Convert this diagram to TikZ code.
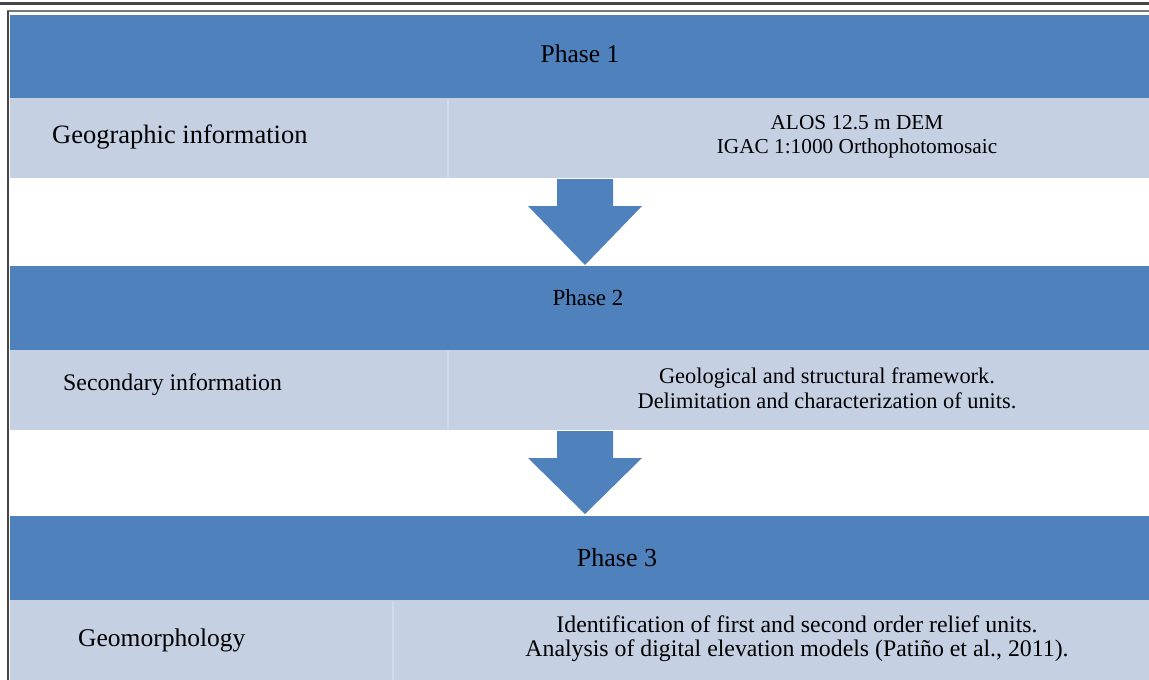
\documentclass[tikz,border=0pt]{standalone}
\usepackage{fontspec}
\setmainfont{Liberation Serif}
\definecolor{barblue}{RGB}{79,129,189}
\definecolor{cellblue}{RGB}{197,208,227}
\definecolor{celldiv}{RGB}{210,219,234}
\definecolor{framedark}{RGB}{70,70,70}
\definecolor{framelight}{RGB}{120,120,120}
\begin{document}
\begin{tikzpicture}[x=1pt,y=-1pt,
  bar/.style={fill=barblue,draw=none,inner sep=0pt,anchor=north west,minimum width=1139pt},
  cell/.style={fill=cellblue,draw=none,inner sep=0pt,anchor=north west,minimum width=1139pt},
  txt/.style={inner sep=0pt,text=black,align=center},
  divline/.style={draw=celldiv,line width=2.5pt},
  blockarrow/.style={fill=barblue,draw=none}]
\useasboundingbox (0,0) rectangle (1149,680);
\fill[white] (0,0) rectangle (1149,680);

% frame
\draw[framedark,line width=3pt] (0,3.5) -- (1149,3.5);
\draw[framelight,line width=1.6pt] (7,11) -- (1149,11);
\draw[framedark,line width=2pt] (7.5,10.5) -- (7.5,680);

% phase bars and cells
\node[bar,minimum height=83pt] (p1) at (10,15) {};
\node[cell,minimum height=80pt] (c1) at (10,98) {};
\node[bar,minimum height=84pt] (p2) at (10,266) {};
\node[cell,minimum height=80pt] (c2) at (10,350) {};
\node[bar,minimum height=84pt] (p3) at (10,516) {};
\node[cell,minimum height=80pt] (c3) at (10,600) {};

% cell dividers
\draw[divline] (448,99) -- (448,177);
\draw[divline] (448,351) -- (448,429);
\draw[divline] (393,601) -- (393,680);

% arrows
\fill[blockarrow] (557,179) -- (613,179) -- (613,206) -- (642,206) -- (585,265) -- (528,206) -- (557,206) -- cycle;
\fill[blockarrow] (557,431) -- (613,431) -- (613,458) -- (642,458) -- (585,514) -- (528,458) -- (557,458) -- cycle;

% texts
\node[txt,font=\fontsize{25.5}{30}\selectfont] (t1) at (580,54) {Phase 1};
\node[txt,anchor=west,font=\fontsize{26.5}{30}\selectfont] (g1) at (52,137) {Geographic information};
\node[txt,font=\fontsize{21.3}{24}\selectfont] (r1) at (857,137) {ALOS 12.5 m DEM\\IGAC 1:1000 Orthophotomosaic};

\node[txt,font=\fontsize{23}{27}\selectfont] (t2) at (588,298) {Phase 2};
\node[txt,anchor=west,font=\fontsize{23.8}{27}\selectfont] (g2) at (63,385) {Secondary information};
\node[txt,font=\fontsize{22.4}{25}\selectfont] (r2) at (827,388) {Geological and structural framework.\\Delimitation and characterization of units.};

\node[txt,font=\fontsize{26}{30}\selectfont] (t3) at (617,558) {Phase 3};
\node[txt,anchor=west,font=\fontsize{25.5}{30}\selectfont] (g3) at (78,640) {Geomorphology};
\node[txt,font=\fontsize{23.8}{24}\selectfont] (r3) at (797,639) {Identification of first and second order relief units.\\Analysis of digital elevation models (Patiño et al., 2011).};
\end{tikzpicture}
\end{document}
